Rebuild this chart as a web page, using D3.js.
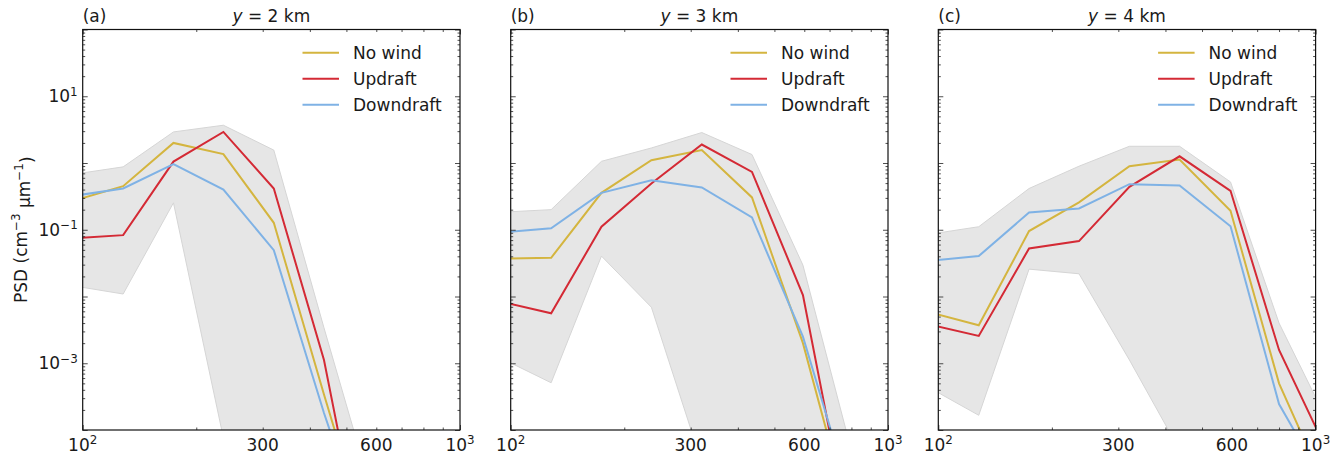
<!DOCTYPE html>
<html>
<head>
<meta charset="utf-8">
<script src="https://cdn.jsdelivr.net/npm/d3@7"></script>
<style>
  body { margin: 0; background: #fff; }
  svg text { font-family: "DejaVu Sans", sans-serif; fill: #1a1a1a; }
</style>
</head>
<body>
<svg id="chart" width="1343" height="455"></svg>
<script>
// drop diameters (um), first and last points sit just outside the axes
var diameters = [94, 128, 174, 236, 321, 436, 595, 800, 1090];

var panelTags = ["(a)", "(b)", "(c)"];
var panelHeights = ["2", "3", "4"];
var seriesNames = ["No wind", "Updraft", "Downdraft"];

// y = 2 km
var noWindA    = [0.27, 0.45, 2.0, 1.36, 0.127, 3.4e-4, 1e-6, 1e-8, 1e-8];
var updraftA   = [0.074, 0.083, 1.05, 2.92, 0.415, 1.12e-3, 1.6e-7, 1e-8, 1e-8];
var downdraftA = [0.32, 0.415, 0.96, 0.40, 0.0495, 1.8e-4, 1e-6, 1e-8, 1e-8];
var upperA     = [0.675, 0.875, 2.92, 3.68, 1.56, 3.4e-3, 8e-6, 1e-7, 1e-8];
var lowerA     = [0.0145, 0.0109, 0.253, 7.6e-5, 1e-9, 1e-9, 1e-9, 1e-9, 1e-9];

// y = 3 km
var noWindB    = [0.037, 0.038, 0.357, 1.10, 1.56, 0.305, 2.0e-3, 4e-6, 1e-8];
var updraftB   = [8.4e-3, 5.6e-3, 0.111, 0.493, 1.89, 0.736, 0.0105, 2e-6, 1e-8];
var downdraftB = [0.091, 0.105, 0.357, 0.553, 0.43, 0.153, 2.5e-3, 9.3e-6, 1e-8];
var upperB     = [0.183, 0.20, 1.06, 1.68, 2.86, 1.34, 0.0295, 4.9e-5, 1e-7];
var lowerB     = [1.2e-3, 5.1e-4, 0.0403, 6.9e-3, 3.2e-5, 1e-9, 1e-9, 1e-9, 1e-9];

// y = 4 km
var noWindC    = [5.9e-3, 3.7e-3, 0.0955, 0.257, 0.895, 1.13, 0.192, 5.0e-4, 1e-5];
var updraftC   = [3.85e-3, 2.57e-3, 0.0525, 0.0676, 0.44, 1.26, 0.383, 1.58e-3, 4.0e-5];
var downdraftC = [0.034, 0.0403, 0.1815, 0.2085, 0.482, 0.46, 0.113, 2.45e-4, 1.15e-5];
var upperC     = [0.085, 0.111, 0.415, 0.895, 1.78, 1.78, 0.52, 4.0e-3, 1.15e-4];
var lowerC     = [4.4e-4, 1.66e-4, 0.0257, 0.0219, 1.12e-3, 5e-5, 1e-9, 1e-9, 1e-9];

var xMajor = [100, 1000];
var xMinor = [200, 300, 400, 500, 600, 700, 800, 900];
var xLabels = [100, 300, 600, 1000];
var yLabels = [1e-3, 1e-1, 1e1];

var panels = [
    {series: [noWindA, updraftA, downdraftA], upper: upperA, lower: lowerA},
    {series: [noWindB, updraftB, downdraftB], upper: upperB, lower: lowerB},
    {series: [noWindC, updraftC, downdraftC], upper: upperC, lower: lowerC}
];

var colors = ["#d4b53f", "#d42a35", "#7fb2e5"];
var panelLeft = [82.7, 510.7, 938.3];
var panelW = 377.3;
var plotTop = 29.5, plotBottom = 430;
var fontSize = 17;

var svg = d3.select("#chart");

var x = d3.scaleLog().domain([100, 1000]).range([0, panelW]);
var y = d3.scaleLog().domain([1e-4, 1e2]).range([plotBottom - plotTop, 0]);

var yMajor = [], yMinor = [];
for (var e = -4; e <= 2; e++) {
    yMajor.push(Math.pow(10, e));
    if (e < 2) for (var m = 2; m <= 9; m++) yMinor.push(m * Math.pow(10, e));
}

function supText(sel, base, sup) {
    sel.append("tspan").text(base);
    sel.append("tspan").attr("dy", "-0.55em").attr("font-size", "0.7em").text(sup);
}

function drawAxis(g, axisFn, scale, values, size, tr) {
    var a = g.append("g")
        .attr("transform", tr)
        .call(axisFn(scale).tickValues(values).tickSize(size).tickFormat(""));
    a.select(".domain").remove();
    a.selectAll(".tick line").attr("stroke", "#222").attr("stroke-width", 0.8);
}

panels.forEach(function(p, i) {
    var g = svg.append("g").attr("transform", "translate(" + panelLeft[i] + "," + plotTop + ")");
    var h = plotBottom - plotTop;

    g.append("clipPath").attr("id", "clip" + i)
        .append("rect").attr("width", panelW).attr("height", h);

    var plot = g.append("g").attr("clip-path", "url(#clip" + i + ")");

    var band = d3.area()
        .x((d, k) => x(diameters[k]))
        .y0((d, k) => y(p.lower[k]))
        .y1((d, k) => y(p.upper[k]));

    plot.append("path")
        .datum(p.upper)
        .attr("d", band)
        .attr("fill", "#e6e6e6")
        .attr("stroke", "#d5d5d5")
        .attr("stroke-width", 1);

    var line = d3.line()
        .x((d, k) => x(diameters[k]))
        .y(d => y(d));

    plot.selectAll(".series")
        .data(p.series)
        .enter()
        .append("path")
            .attr("d", line)
            .attr("fill", "none")
            .attr("stroke", (d, k) => colors[k])
            .attr("stroke-width", 2);

    // ticks, pointing inward on all four sides
    drawAxis(g, d3.axisBottom, x, xMajor, -5, "translate(0," + h + ")");
    drawAxis(g, d3.axisBottom, x, xMinor, -2.5, "translate(0," + h + ")");
    drawAxis(g, d3.axisTop, x, xMajor, -5, "translate(0,0)");
    drawAxis(g, d3.axisTop, x, xMinor, -2.5, "translate(0,0)");
    drawAxis(g, d3.axisLeft, y, yMajor, -5, "translate(0,0)");
    drawAxis(g, d3.axisLeft, y, yMinor, -2.5, "translate(0,0)");
    drawAxis(g, d3.axisRight, y, yMajor, -5, "translate(" + panelW + ",0)");
    drawAxis(g, d3.axisRight, y, yMinor, -2.5, "translate(" + panelW + ",0)");

    g.append("rect")
        .attr("width", panelW).attr("height", h)
        .attr("fill", "none").attr("stroke", "#111").attr("stroke-width", 1.2);

    // x tick labels
    xLabels.forEach(function(v) {
        var t = g.append("text")
            .attr("x", x(v)).attr("y", h + 21)
            .attr("text-anchor", "middle")
            .attr("font-size", fontSize);
        if (v === 100) supText(t, "10", "2");
        else if (v === 1000) supText(t, "10", "3");
        else t.text(v);
    });

    // y tick labels only on the first panel
    if (i === 0) {
        yLabels.forEach(function(v) {
            var t = g.append("text")
                .attr("x", -5).attr("y", y(v) + 6)
                .attr("text-anchor", "end")
                .attr("font-size", fontSize);
            supText(t, "10", (v < 1 ? "\u2212" : "") + Math.abs(Math.round(Math.log10(v))));
        });
    }

    // titles
    g.append("text")
        .attr("x", 0).attr("y", -8)
        .attr("font-size", fontSize)
        .text(panelTags[i]);

    var title = g.append("text")
        .attr("x", panelW / 2).attr("y", -8)
        .attr("text-anchor", "middle")
        .attr("font-size", fontSize);
    title.append("tspan").attr("font-style", "italic").text("y");
    title.append("tspan").text(" = " + panelHeights[i] + " km");

    // legend
    var leg = g.append("g").attr("transform", "translate(" + (panelW - 157.5) + ",23.2)");
    seriesNames.forEach(function(name, k) {
        leg.append("line")
            .attr("x1", 0).attr("x2", 36.5)
            .attr("y1", k * 26).attr("y2", k * 26)
            .attr("stroke", colors[k]).attr("stroke-width", 2);
        leg.append("text")
            .attr("x", 50.5).attr("y", k * 26 + 6)
            .attr("font-size", fontSize)
            .text(name);
    });
});

// y axis label
var yl = svg.append("text")
    .attr("transform", "translate(27," + ((plotTop + plotBottom) / 2) + ") rotate(-90)")
    .attr("text-anchor", "middle")
    .attr("font-size", fontSize);
yl.append("tspan").text("PSD (cm");
yl.append("tspan").attr("dy", "-0.55em").attr("font-size", "0.7em").text("\u22123");
yl.append("tspan").attr("dy", "0.55em").text(" \u03bcm");
yl.append("tspan").attr("dy", "-0.55em").attr("font-size", "0.7em").text("\u22121");
yl.append("tspan").attr("dy", "0.55em").text(")");
</script>
</body>
</html>
